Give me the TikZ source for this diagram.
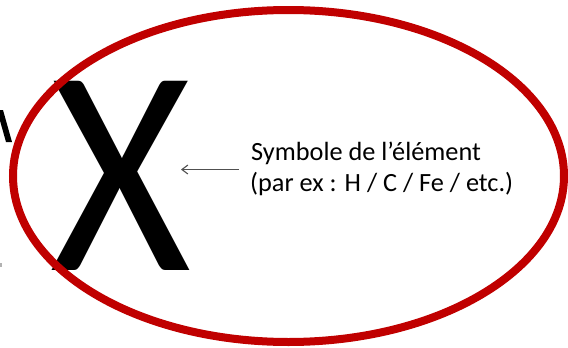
\documentclass[tikz,border=0pt]{standalone}
\usepackage{fontspec}
\setmainfont{Carlito}
\usetikzlibrary{shapes.geometric,arrows.meta}
\definecolor{ellred}{RGB}{192,0,0}
\definecolor{arrowgray}{RGB}{80,80,80}
\tikzset{
  ringstyle/.style={ellipse, draw=ellred, line width=8pt, inner sep=0pt},
  bigsym/.style={inner sep=0pt, outer sep=0pt, anchor=base, font=\fontsize{295}{300}\selectfont},
  labeltext/.style={inner sep=0pt, anchor=base west, font=\fontsize{26.3}{31}\selectfont, text=black},
  pointer/.style={draw=arrowgray, line width=1.1pt, -{Straight Barb[length=6pt,width=9pt]}},
  fragment/.style={fill=black, draw=none}
}
\begin{document}
\begin{tikzpicture}[x=1pt,y=-1pt]
\useasboundingbox (0,0) rectangle (568,348);
\fill[white] (0,0) rectangle (568,348);
% cut-off fragments at the left edge
\fill[fragment] (-3,110) -- (3,110) -- (12,142) -- (6,142) -- cycle;
\fill[gray!60] (0,263) rectangle (2,267);
% big symbol
\node[bigsym] (sym) at (120.5,270) {\scalebox{0.92}[1]{X}};
% ellipse
\node[ringstyle, minimum width=551pt, minimum height=332pt] (ring) at (288.5,176) {};
% labels
\node[labeltext] (lbl1) at (251,160.7) {Symbole de l’élément};
\node[labeltext] (lbl2) at (250,191.2) {(par ex : H / C / Fe / etc.)};
% arrow
\coordinate (tail) at (239,169.5);
\coordinate (tip) at (181,169.5);
\draw[pointer] (tail) -- (tip);
\end{tikzpicture}
\end{document}
